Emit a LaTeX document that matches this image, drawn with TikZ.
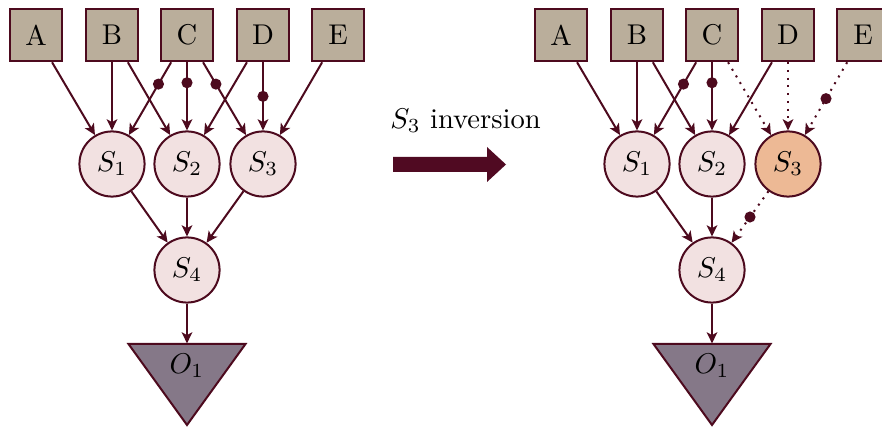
\documentclass[tikz,border=0pt]{standalone}
\usetikzlibrary{arrows.meta}

\definecolor{edgecol}{HTML}{4D0A1E}
\definecolor{boxfill}{HTML}{BAAE9B}
\definecolor{nodefill}{HTML}{F2E1E1}
\definecolor{invfill}{HTML}{EDB995}
\definecolor{outfill}{HTML}{857888}
\definecolor{arrowcol}{HTML}{500A22}

\tikzset{
  input/.style={draw=edgecol, fill=boxfill, line width=0.7pt,
    minimum size=18.4pt, inner sep=0pt},
  hidden/.style={circle, draw=edgecol, fill=nodefill, line width=0.7pt,
    minimum size=22.8pt, inner sep=0pt},
  inverted/.style={hidden, fill=invfill},
  outlabel/.style={inner sep=0pt, minimum height=15.4pt, minimum width=10pt},
  outshape/.style={draw=edgecol, fill=outfill, line width=0.7pt, line join=miter},
  link/.style={draw=edgecol, line width=0.7pt,
    -{Stealth[length=3.9pt,width=3.7pt,inset=1pt]}},
  weak/.style={link, dotted},
  negdot/.style={circle, fill=edgecol, inner sep=0pt, minimum size=3.9pt, solid},
}

\begin{document}
\begin{tikzpicture}[x=0.35pt, y=-0.35pt]
  \useasboundingbox (0,0) rectangle (882,428);

  % ---------- network before the inversion ----------
  \node[input] (A1) at (36,35) {A};
  \node[input] (B1) at (112,35) {B};
  \node[input] (C1) at (187,35) {C};
  \node[input] (D1) at (263,35) {D};
  \node[input] (E1) at (338,35) {E};

  \node[hidden] (S11) at (112,164) {$S_1$};
  \node[hidden] (S21) at (187,164) {$S_2$};
  \node[hidden] (S31) at (263,164) {$S_3$};
  \node[hidden] (S41) at (187,270) {$S_4$};

  \path[outshape] (128.5,344) -- (245.5,344) -- (187,425) -- cycle;
  \node[outlabel] (O11) at (187,366) {$O_1$};

  \draw[link] (A1) -- (S11);
  \draw[link] (B1) -- (S11);
  \draw[link] (B1) -- (S21);
  \draw[link] (C1) -- node[negdot, pos=0.3] {} (S11);
  \draw[link] (C1) -- node[negdot, pos=0.3] {} (S21);
  \draw[link] (C1) -- node[negdot, pos=0.3] {} (S31);
  \draw[link] (D1) -- (S21);
  \draw[link] (D1) -- node[negdot, pos=0.5] {} (S31);
  \draw[link] (E1) -- (S31);
  \draw[link] (S11) -- (S41);
  \draw[link] (S21) -- (S41);
  \draw[link] (S31) -- (S41);
  \draw[link] (S41) -- (O11);

  % ---------- transition ----------
  \node (inv) at (465.5,121) {$S_3$ inversion};
  \fill[arrowcol] (393,157) -- (487,157) -- (487,147) -- (506,164.5)
    -- (487,182) -- (487,172) -- (393,172) -- cycle;

  % ---------- network after the inversion ----------
  \node[input] (A2) at (561,35) {A};
  \node[input] (B2) at (637,35) {B};
  \node[input] (C2) at (712,35) {C};
  \node[input] (D2) at (788,35) {D};
  \node[input] (E2) at (863,35) {E};

  \node[hidden] (S12) at (637,164) {$S_1$};
  \node[hidden] (S22) at (712,164) {$S_2$};
  \node[inverted] (S32) at (788,164) {$S_3$};
  \node[hidden] (S42) at (712,270) {$S_4$};

  \path[outshape] (653.5,344) -- (770.5,344) -- (712,425) -- cycle;
  \node[outlabel] (O12) at (712,366) {$O_1$};

  \draw[link] (A2) -- (S12);
  \draw[link] (B2) -- (S12);
  \draw[link] (B2) -- (S22);
  \draw[link] (C2) -- node[negdot, pos=0.3] {} (S12);
  \draw[link] (C2) -- node[negdot, pos=0.3] {} (S22);
  \draw[weak] (C2) -- (S32);
  \draw[link] (D2) -- (S22);
  \draw[weak] (D2) -- (S32);
  \draw[weak] (E2) -- node[negdot, pos=0.5] {} (S32);
  \draw[link] (S12) -- (S42);
  \draw[link] (S22) -- (S42);
  \draw[weak] (S32) -- node[negdot, pos=0.5] {} (S42);
  \draw[link] (S42) -- (O12);
\end{tikzpicture}
\end{document}
